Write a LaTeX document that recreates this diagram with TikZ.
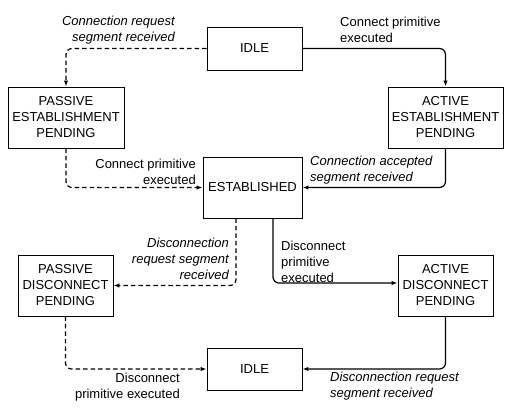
\documentclass[tikz,border=0pt]{standalone}
\usepackage{fontspec}
\setmainfont{Liberation Sans}
\usetikzlibrary{arrows.meta}
\begin{document}
\begin{tikzpicture}[x=1pt,y=-1pt,
  statebox/.style={draw,line width=0.9pt,align=center,inner sep=0pt,font=\fontsize{13}{16}\selectfont},
  lbl/.style={inner sep=0pt,font=\fontsize{13}{16}\selectfont},
  ilbl/.style={lbl,font=\fontsize{13}{16}\selectfont\itshape},
  conn/.style={line width=1.2pt,rounded corners=6pt,-{Latex[length=6pt,width=4.5pt]}},
  dconn/.style={conn,dash pattern=on 4.5pt off 3pt}]
\useasboundingbox (0,0) rectangle (513,412);
\node[statebox,minimum width=95pt,minimum height=43pt] (idleA) at (254.5,48.5) {IDLE};
\node[statebox,minimum width=116pt,minimum height=61pt] (pe) at (66,117.5) {PASSIVE\\ESTABLISHMENT\\PENDING};
\node[statebox,minimum width=115pt,minimum height=61pt] (ae) at (445.5,117.5) {ACTIVE\\ESTABLISHMENT\\PENDING};
\node[statebox,minimum width=99pt,minimum height=61pt] (est) at (252.5,187.5) {ESTABLISHED};
\node[statebox,minimum width=95pt,minimum height=61pt] (pd) at (65.5,285.5) {PASSIVE\\DISCONNECT\\PENDING};
\node[statebox,minimum width=95pt,minimum height=61pt] (ad) at (445.5,285.5) {ACTIVE\\DISCONNECT\\PENDING};
\node[statebox,minimum width=95pt,minimum height=42pt] (idleB) at (254.5,369) {IDLE};

\draw[dconn] (idleA.west) -| (pe.north);
\draw[conn] (idleA.east) -| (ae.north);
\draw[dconn] (pe.south) |- (est.west);
\draw[conn] (ae.south) |- (est.east);
\draw[dconn] ([xshift=-16.5pt]est.south) |- (pd.east);
\draw[conn] ([xshift=20.5pt]est.south) |- ([yshift=2.5pt]ad.west);
\draw[dconn] (pd.south) |- (idleB.west);
\draw[conn] (ad.south) |- (idleB.east);

\node[ilbl,align=right,anchor=east] (l1) at (175,30) {Connection request\\segment received};
\node[lbl,align=left,anchor=west] (l2) at (340,30) {Connect primitive\\executed};
\node[lbl,align=right,anchor=east] (l3) at (196,172) {Connect primitive\\executed};
\node[ilbl,align=left,anchor=west] (l4) at (310,170) {Connection accepted\\segment received};
\node[ilbl,align=right,anchor=east] (l5) at (229,259) {Disconnection\\request segment\\received};
\node[lbl,align=left,anchor=west] (l6) at (281,262) {Disconnect\\primitive\\executed};
\node[lbl,align=right,anchor=east] (l7) at (180,387) {Disconnect\\primitive executed};
\node[ilbl,align=left,anchor=west] (l8) at (330,386) {Disconnection request\\segment received};
\end{tikzpicture}
\end{document}
